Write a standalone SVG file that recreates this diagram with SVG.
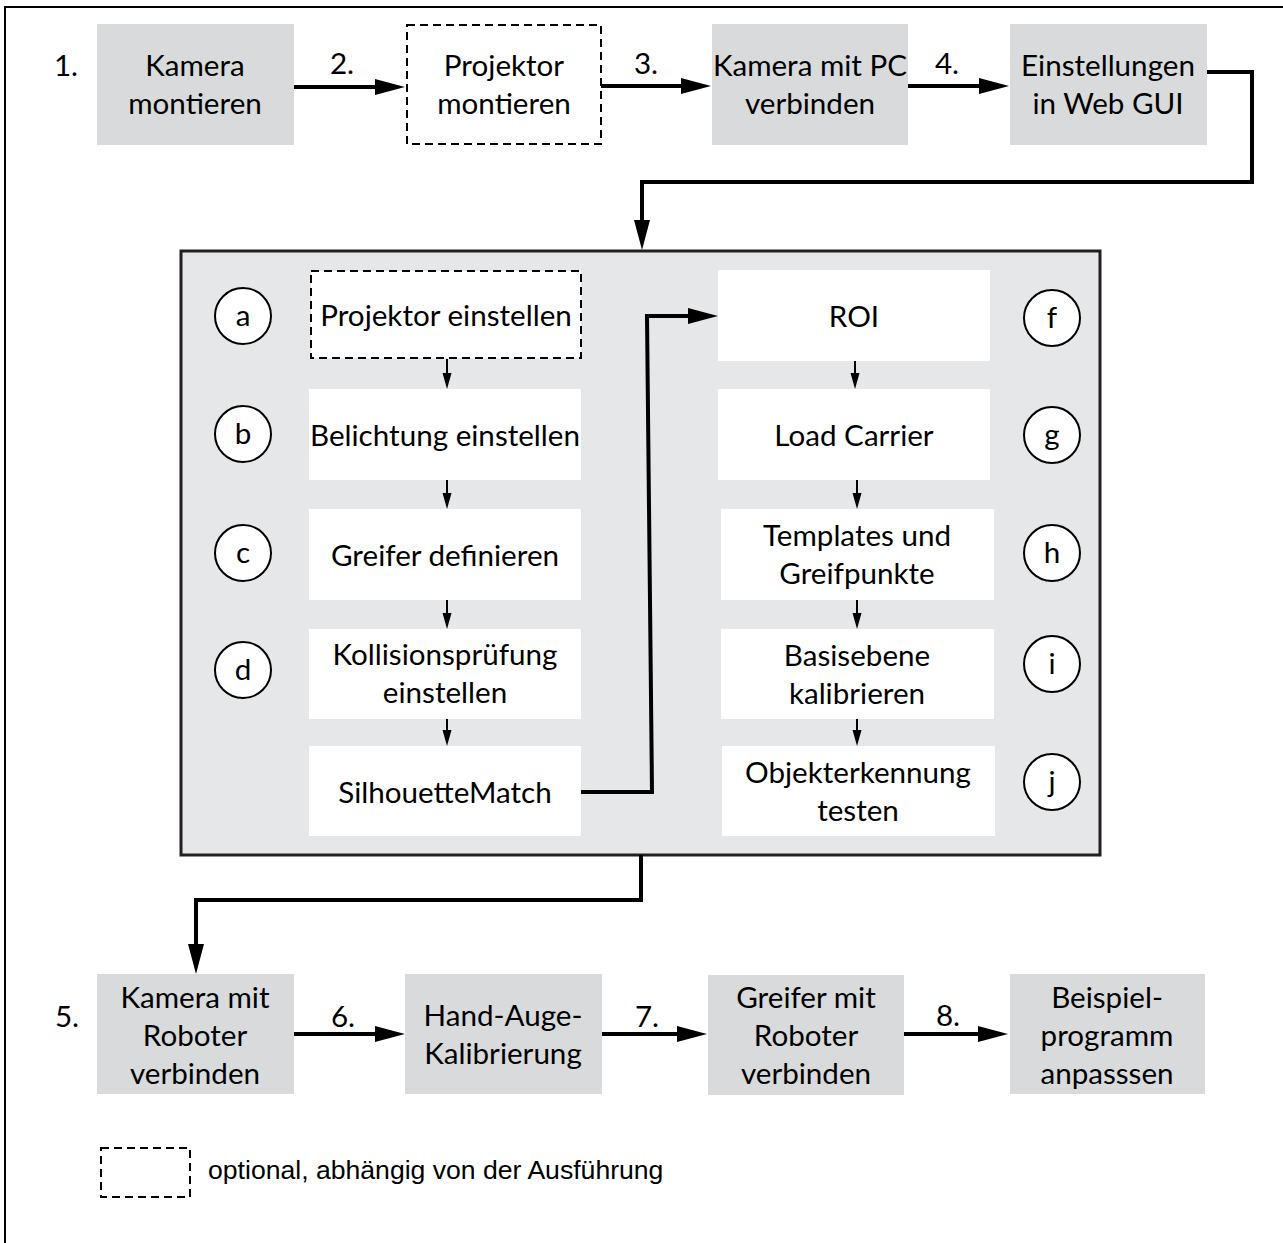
<svg xmlns="http://www.w3.org/2000/svg" width="1283" height="1243" viewBox="0 0 1283 1243">
<style>
.t{font-family:Lato,"Open Sans",sans-serif;font-size:29.6px;text-anchor:middle;fill:#000}
.n{font-family:Lato,"Open Sans",sans-serif;font-size:29.6px;text-anchor:middle;fill:#000}
.gray{fill:#d9dadb}
.white{fill:#fff}
.dash{fill:#fff;stroke:#000;stroke-width:2;stroke-dasharray:8,5}
.circ{fill:#fff;stroke:#000;stroke-width:2}
.thick{fill:none;stroke:#000;stroke-width:4;marker-end:url(#big)}
.thin{fill:none;stroke:#000;stroke-width:2;marker-end:url(#small)}
.leg{font-family:"Liberation Sans",Arial,sans-serif;font-size:26.6px;fill:#000}
</style>
<defs>
<marker id="big" markerUnits="userSpaceOnUse" markerWidth="30" markerHeight="16" refX="20" refY="8" orient="auto"><path d="M0,0 L30,8 L0,16 z" fill="#000"/></marker>
<marker id="small" markerUnits="userSpaceOnUse" markerWidth="16" markerHeight="10" refX="8" refY="5" orient="auto"><path d="M0,0.5 L16,5 L0,9.5 z" fill="#000"/></marker>
</defs>
<rect x="0" y="0" width="1283" height="1243" fill="#fff"/>
<rect id="frame" x="5" y="7" width="1300" height="1260" fill="none" stroke="#000" stroke-width="2"/>

<g id="inner-panel"><rect x="181" y="251" width="919" height="604" fill="#e6e7e8" stroke="#231f20" stroke-width="3"/></g>

<g id="step1"><rect class="gray" x="97" y="24" width="197" height="121"/><text class="n" x="66" y="76">1.</text><text class="t" x="195" y="76">Kamera</text><text class="t" x="195" y="114">montieren</text></g>
<g id="step2"><rect class="dash" x="407" y="25" width="194" height="119"/><text class="t" x="504" y="76">Projektor</text><text class="t" x="504" y="114">montieren</text></g>
<g id="step3"><rect class="gray" x="712" y="24" width="196" height="121"/><text class="t" x="810" y="76">Kamera mit PC</text><text class="t" x="810" y="114">verbinden</text></g>
<g id="step4"><rect class="gray" x="1010" y="24" width="197" height="121"/><text class="t" x="1108" y="76">Einstellungen</text><text class="t" x="1108" y="114">in Web GUI</text></g>

<g id="sa"><rect class="dash" x="311" y="271" width="270" height="87"/><text class="t" x="446" y="326">Projektor einstellen</text><circle class="circ" cx="243" cy="316" r="28"/><text class="n" x="243" y="326">a</text></g>
<g id="sb"><rect class="white" x="309" y="389" width="272" height="91"/><text class="t" x="445" y="446">Belichtung einstellen</text><circle class="circ" cx="243" cy="434" r="28"/><text class="n" x="243" y="444">b</text></g>
<g id="sc"><rect class="white" x="309" y="509" width="272" height="91"/><text class="t" x="445" y="566">Greifer definieren</text><circle class="circ" cx="243" cy="553" r="28"/><text class="n" x="243" y="563">c</text></g>
<g id="sd"><rect class="white" x="309" y="629" width="272" height="90"/><text class="t" x="445" y="665">Kollisionsprüfung</text><text class="t" x="445" y="703">einstellen</text><circle class="circ" cx="243" cy="670" r="28"/><text class="n" x="243" y="680">d</text></g>
<g id="se"><rect class="white" x="309" y="746" width="272" height="90"/><text class="t" x="445" y="803">SilhouetteMatch</text></g>

<g id="sf"><rect class="white" x="718" y="270" width="272" height="91"/><text class="t" x="854" y="327">ROI</text><circle class="circ" cx="1052" cy="318" r="28"/><text class="n" x="1052" y="328">f</text></g>
<g id="sg"><rect class="white" x="718" y="389" width="272" height="91"/><text class="t" x="854" y="446">Load Carrier</text><circle class="circ" cx="1052" cy="435" r="28"/><text class="n" x="1052" y="445">g</text></g>
<g id="sh"><rect class="white" x="721" y="509" width="273" height="91"/><text class="t" x="857" y="546">Templates und</text><text class="t" x="857" y="584">Greifpunkte</text><circle class="circ" cx="1052" cy="553" r="28"/><text class="n" x="1052" y="563">h</text></g>
<g id="si"><rect class="white" x="721" y="629" width="273" height="90"/><text class="t" x="857" y="666">Basisebene</text><text class="t" x="857" y="704">kalibrieren</text><circle class="circ" cx="1052" cy="664" r="28"/><text class="n" x="1052" y="674">i</text></g>
<g id="sj"><rect class="white" x="722" y="746" width="273" height="90"/><text class="t" x="858" y="783">Objekterkennung</text><text class="t" x="858" y="821">testen</text><circle class="circ" cx="1052" cy="782" r="28"/><text class="n" x="1052" y="792">j</text></g>

<g id="step5"><rect class="gray" x="97" y="974" width="197" height="120"/><text class="n" x="67" y="1027">5.</text><text class="t" x="195" y="1008">Kamera mit</text><text class="t" x="195" y="1046">Roboter</text><text class="t" x="195" y="1084">verbinden</text></g>
<g id="step6"><rect class="gray" x="405" y="974" width="197" height="120"/><text class="t" x="503" y="1026">Hand-Auge-</text><text class="t" x="503" y="1064">Kalibrierung</text></g>
<g id="step7"><rect class="gray" x="708" y="975" width="196" height="120"/><text class="t" x="806" y="1008">Greifer mit</text><text class="t" x="806" y="1046">Roboter</text><text class="t" x="806" y="1084">verbinden</text></g>
<g id="step8"><rect class="gray" x="1010" y="974" width="195" height="120"/><text class="t" x="1107" y="1008">Beispiel-</text><text class="t" x="1107" y="1046">programm</text><text class="t" x="1107" y="1084">anpasssen</text></g>

<g id="connectors">
<path class="thick" d="M294,87 H395"/>
<path class="thick" d="M601,86 H701"/>
<path class="thick" d="M908,86 H999"/>
<path class="thick" d="M1207,72 H1252 V182 H642 V240"/>
<path class="thin" d="M447,359 V381"/>
<path class="thin" d="M447,480 V501"/>
<path class="thin" d="M447,600 V621"/>
<path class="thin" d="M447,719 V738"/>
<path class="thin" d="M855,361 V381"/>
<path class="thin" d="M857,480 V501"/>
<path class="thin" d="M857,600 V621"/>
<path class="thin" d="M857,719 V738"/>
<path class="thick" d="M581,792 H652 L647,316 H708"/>
<path class="thick" d="M641,855 V900 H196 V964"/>
<path class="thick" d="M294,1034 H395"/>
<path class="thick" d="M602,1034 H697"/>
<path class="thick" d="M904,1034 H998"/>
</g>
<g id="labels">
<text class="n" x="342" y="74">2.</text>
<text class="n" x="646" y="74">3.</text>
<text class="n" x="947" y="74">4.</text>
<text class="n" x="343" y="1027">6.</text>
<text class="n" x="647" y="1027">7.</text>
<text class="n" x="948" y="1026">8.</text>
</g>
<g id="legend"><rect x="101" y="1148" width="89" height="49" fill="none" stroke="#000" stroke-width="2" stroke-dasharray="8,5"/><text class="leg" x="208" y="1179">optional, abhängig von der Ausführung</text></g>
</svg>
